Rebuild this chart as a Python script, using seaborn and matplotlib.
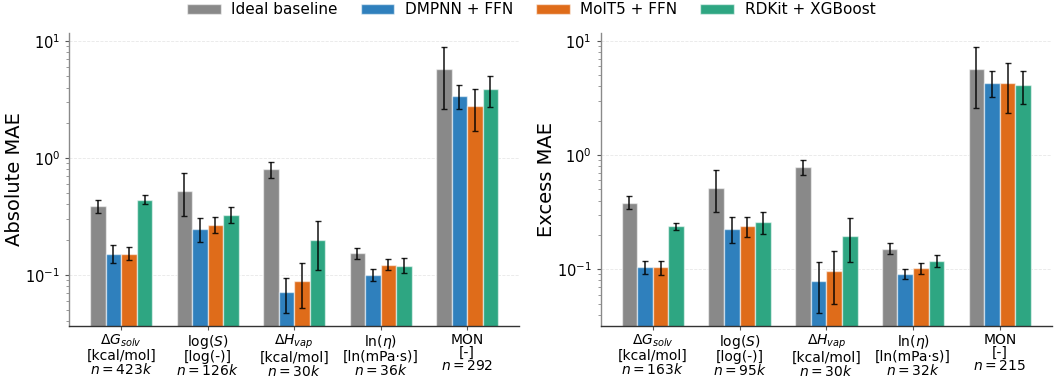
import numpy as np
import pandas as pd
import matplotlib
matplotlib.use("Agg")
import matplotlib.pyplot as plt
import seaborn as sns
from matplotlib.patches import Patch

# ---------------- data ----------------
tasks = [r"$\Delta G_{solv}$", r"log($S$)", r"$\Delta H_{vap}$", r"ln($\eta$)", "MON"]
units = ["[kcal/mol]", "[log(-)]", "[kcal/mol]", "[ln(mPa·s)]", "[-]"]
n_abs = ["423k", "126k", "30k", "36k", "292"]
n_exc = ["163k", "95k", "30k", "32k", "215"]
models = ["Ideal baseline", "DMPNN + FFN", "MolT5 + FFN", "RDKit + XGBoost"]
colors = ["#898989", "#2f80bd", "#df6c1a", "#2ea682"]

# Absolute MAE: mean, lower bound, upper bound per model (order of tasks)
abs_baseline = [0.386, 0.526, 0.80, 0.154, 5.72]
abs_baseline_lo = [0.339, 0.317, 0.675, 0.138, 2.62]
abs_baseline_hi = [0.434, 0.739, 0.917, 0.170, 8.89]
abs_dmpnn = [0.152, 0.247, 0.071, 0.100, 3.41]
abs_dmpnn_lo = [0.127, 0.191, 0.0473, 0.089, 2.62]
abs_dmpnn_hi = [0.179, 0.307, 0.0948, 0.113, 4.20]
abs_molt5 = [0.152, 0.269, 0.0882, 0.122, 2.80]
abs_molt5_lo = [0.135, 0.228, 0.0522, 0.111, 1.71]
abs_molt5_hi = [0.172, 0.311, 0.126, 0.137, 3.89]
abs_rdkit = [0.440, 0.326, 0.199, 0.120, 3.89]
abs_rdkit_lo = [0.407, 0.278, 0.111, 0.103, 2.74]
abs_rdkit_hi = [0.482, 0.378, 0.287, 0.140, 5.02]

# Excess MAE
exc_baseline = [0.384, 0.520, 0.789, 0.151, 5.68]
exc_baseline_lo = [0.338, 0.316, 0.672, 0.136, 2.58]
exc_baseline_hi = [0.437, 0.733, 0.910, 0.169, 8.79]
exc_dmpnn = [0.104, 0.227, 0.0785, 0.0915, 4.31]
exc_dmpnn_lo = [0.0915, 0.169, 0.0414, 0.082, 3.23]
exc_dmpnn_hi = [0.117, 0.289, 0.1165, 0.101, 5.46]
exc_molt5 = [0.104, 0.240, 0.0966, 0.102, 4.31]
exc_molt5_lo = [0.0897, 0.193, 0.0493, 0.0915, 2.33]
exc_molt5_hi = [0.119, 0.284, 0.145, 0.113, 6.41]
exc_rdkit = [0.237, 0.260, 0.197, 0.118, 4.11]
exc_rdkit_lo = [0.221, 0.203, 0.115, 0.104, 2.82]
exc_rdkit_hi = [0.255, 0.320, 0.280, 0.132, 5.46]

abs_means = [abs_baseline, abs_dmpnn, abs_molt5, abs_rdkit]
abs_lo = [abs_baseline_lo, abs_dmpnn_lo, abs_molt5_lo, abs_rdkit_lo]
abs_hi = [abs_baseline_hi, abs_dmpnn_hi, abs_molt5_hi, abs_rdkit_hi]
exc_means = [exc_baseline, exc_dmpnn, exc_molt5, exc_rdkit]
exc_lo = [exc_baseline_lo, exc_dmpnn_lo, exc_molt5_lo, exc_rdkit_lo]
exc_hi = [exc_baseline_hi, exc_dmpnn_hi, exc_molt5_hi, exc_rdkit_hi]

# ---------------- plotting ----------------
sns.set_style("white")
plt.rcParams["font.family"] = ["DejaVu Sans"]
plt.rcParams["mathtext.fontset"] = "dejavusans"
plt.rcParams["text.color"] = "black"
plt.rcParams["axes.labelcolor"] = "black"
plt.rcParams["xtick.color"] = "black"
plt.rcParams["ytick.color"] = "black"

fig = plt.figure(figsize=(10.54, 3.77), dpi=100)
ax1 = fig.add_axes([0.0658, 0.1353, 0.4266, 0.7772])
ax2 = fig.add_axes([0.5700, 0.1353, 0.4280, 0.7772])


def make_panel(ax, means, lo, hi, ns, ylabel, ylim):
    labels = [f"{t}\n{u}\n$n = {n}$" for t, u, n in zip(tasks, units, ns)]
    rows = []
    for m, vals in zip(models, means):
        for lab, v in zip(labels, vals):
            rows.append({"task": lab, "model": m, "value": v})
    df = pd.DataFrame(rows)
    sns.barplot(data=df, x="task", y="value", hue="model", order=labels,
                hue_order=models, palette=colors, width=0.72, errorbar=None,
                saturation=1, ax=ax, legend=False,
                edgecolor=(1, 1, 1, 0.55), linewidth=1.0)
    ax.set_yscale("log")
    for cont, mv, l, h in zip(ax.containers, means, lo, hi):
        xs = [b.get_x() + b.get_width() / 2 for b in cont]
        mv = np.array(mv); l = np.array(l); h = np.array(h)
        ax.errorbar(xs, mv, yerr=[mv - l, h - mv], fmt="none",
                    ecolor=(0, 0, 0, 0.85), elinewidth=1.2, capsize=2.3,
                    capthick=1.0, zorder=5)
    ax.set_xlim(-0.6, 4.6)
    ax.set_ylim(*ylim)
    ax.set_xlabel("")
    ax.set_ylabel(ylabel, fontsize=14, labelpad=1)
    ax.grid(axis="y", which="major", linestyle="--", linewidth=0.6,
            color="#e2e2e2", alpha=0.8)
    ax.set_axisbelow(True)
    for s in ["top", "right"]:
        ax.spines[s].set_visible(False)
    ax.spines["left"].set_color("#8a8a8a")
    ax.spines["left"].set_linewidth(1.0)
    ax.spines["bottom"].set_color("#333333")
    ax.spines["bottom"].set_linewidth(1.0)
    ax.tick_params(axis="both", which="major", labelsize=10.5, length=3,
                   width=0.8, color="#555555", left=True, bottom=True)
    ax.tick_params(axis="y", which="minor", length=2, width=0.6,
                   color="#888888", left=True)
    ax.tick_params(axis="x", labelsize=10, pad=2)
    for t in ax.get_xticklabels():
        t.set_linespacing(0.93)


make_panel(ax1, abs_means, abs_lo, abs_hi, n_abs, "Absolute MAE", (0.0366, 11.7))
make_panel(ax2, exc_means, exc_lo, exc_hi, n_exc, "Excess MAE", (0.0318, 11.75))

handles = [Patch(facecolor=c, edgecolor=(1, 1, 1, 0.55), label=m)
           for c, m in zip(colors, models)]
fig.legend(handles=handles, loc="upper center", ncol=4, frameon=False,
           bbox_to_anchor=(0.504, 1.03), fontsize=11, handlelength=2.2,
           handletextpad=0.7, columnspacing=1.5)

fig.savefig("out.png", dpi=100)
